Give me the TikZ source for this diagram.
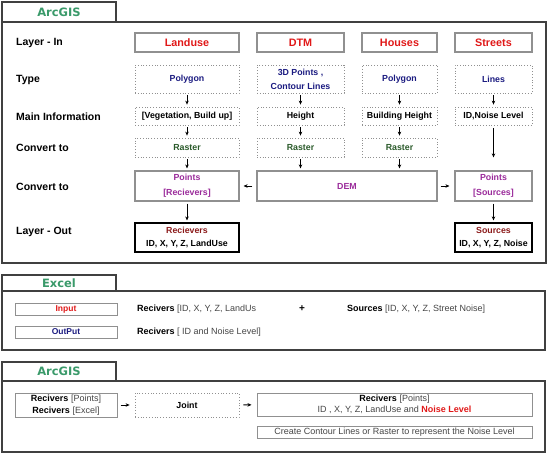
\documentclass[tikz,border=0pt]{standalone}
\usepackage{fontspec}
\setmainfont{Liberation Sans}
\newfontfamily\tabfont{DejaVu Sans}
\usetikzlibrary{arrows.meta}
\definecolor{tabgreen}{HTML}{3A9A6A}
\definecolor{hdred}{HTML}{E01818}
\definecolor{navy}{HTML}{1A1A80}
\definecolor{dkgreen}{HTML}{2A5A2A}
\definecolor{purp}{HTML}{9A2A9A}
\definecolor{dkred}{HTML}{8B1A1A}
\definecolor{frame}{HTML}{404040}
\definecolor{boxgray}{HTML}{909090}
\definecolor{txtgray}{HTML}{454545}
\tikzset{
  frm/.style={draw=frame, line width=1.3pt},
  tabbox/.style={draw=frame, line width=1.3pt, fill=white, inner sep=0pt, minimum width=114pt, font=\tabfont\bfseries\fontsize{11.5}{13}\selectfont, text=tabgreen},
  rowlab/.style={anchor=west, inner sep=0pt, font=\bfseries\fontsize{10.5}{12}\selectfont},
  hdbox/.style={draw=boxgray, line width=1.4pt, inner sep=0pt, minimum height=19pt, font=\bfseries\fontsize{10.8}{12}\selectfont, text=hdred},
  dotbox/.style={draw=boxgray, dotted, line width=0.8pt, inner sep=0pt, align=center, font=\bfseries\fontsize{8.8}{14}\selectfont},
  gbox/.style={draw=boxgray, line width=1.2pt, inner sep=0pt, align=center, font=\bfseries\fontsize{8.8}{15}\selectfont},
  obox/.style={draw=black, line width=1.2pt, inner sep=0pt, align=center, font=\bfseries\fontsize{8.8}{13}\selectfont},
  arr/.style={-{Stealth[length=4pt,width=3.5pt]}, line width=0.8pt},
  plain/.style={anchor=west, inner sep=0pt, font=\fontsize{9}{10}\selectfont, text=txtgray},
  pbox/.style={draw=boxgray, line width=1pt, inner sep=0pt, align=center, font=\fontsize{9}{11.5}\selectfont, text=txtgray},
}
\newcommand{\bk}[1]{\textcolor{black}{\bfseries #1}}
\begin{document}
\begin{tikzpicture}[x=1pt,y=-1pt]
\useasboundingbox (0,0) rectangle (550,455);
% ---------- Section 1 ----------
\draw[frm] (2,22) rectangle (546,263);
\node[tabbox, minimum height=20pt] (tab1) at (59,12) {ArcGIS};

\node[rowlab] (l1) at (16,42.5) {Layer - In};
\node[rowlab] (l2) at (16,80) {Type};
\node[rowlab] (l3) at (16,117) {Main Information};
\node[rowlab] (l4) at (16,148) {Convert to};
\node[rowlab] (l5) at (16,187) {Convert to};
\node[rowlab] (l6) at (16,232) {Layer - Out};

% headers
\node[hdbox, minimum width=104pt] (h1) at (187,42.5) {Landuse};
\node[hdbox, minimum width=87pt] (h2) at (300.5,42.5) {DTM};
\node[hdbox, minimum width=75pt] (h3) at (399.5,42.5) {Houses};
\node[hdbox, minimum width=77pt] (h4) at (493.5,42.5) {Streets};

% type
\node[dotbox, minimum width=104pt, minimum height=28pt, text=navy] (t1) at (187,79) {Polygon};
\node[dotbox, minimum width=87pt, minimum height=28pt, text=navy] (t2) at (300.5,79) {3D Points ,\\Contour Lines};
\node[dotbox, minimum width=75pt, minimum height=28pt, text=navy] (t3) at (399.5,79) {Polygon};
\node[dotbox, minimum width=77pt, minimum height=28pt, text=navy] (t4) at (493.5,79) {Lines};

% main info
\node[dotbox, minimum width=104pt, minimum height=18pt] (m1) at (187,116) {[Vegetation, Build up]};
\node[dotbox, minimum width=87pt, minimum height=18pt] (m2) at (300.5,116) {Height};
\node[dotbox, minimum width=75pt, minimum height=18pt] (m3) at (399.5,116) {Building Height};
\node[dotbox, minimum width=77pt, minimum height=18pt] (m4) at (493.5,116) {ID,Noise Level};

% raster
\node[dotbox, minimum width=104pt, minimum height=19pt, text=dkgreen] (r1) at (187,147.5) {Raster};
\node[dotbox, minimum width=87pt, minimum height=19pt, text=dkgreen] (r2) at (300.5,147.5) {Raster};
\node[dotbox, minimum width=75pt, minimum height=19pt, text=dkgreen] (r3) at (399.5,147.5) {Raster};

% points / DEM
\node[gbox, minimum width=104pt, minimum height=30pt, text=purp] (p1) at (187,186) {Points\\{}[Recievers]};
\node[gbox, minimum width=180pt, minimum height=30pt, text=purp] (dem) at (347,186) {DEM};
\node[gbox, minimum width=77pt, minimum height=30pt, text=purp] (p4) at (493.5,186) {Points\\{}[Sources]};

% outputs
\node[obox, minimum width=104pt, minimum height=29pt] (o1) at (187,237.5) {\textcolor{dkred}{Recievers}\\ID, X, Y, Z, LandUse};
\node[obox, minimum width=77pt, minimum height=29pt] (o4) at (493.5,237.5) {\textcolor{dkred}{Sources}\\ID, X, Y, Z, Noise};

% arrows section 1
\foreach \a/\b in {t1/m1,t2/m2,t3/m3,t4/m4,m1/r1,m2/r2,m3/r3,r1/p1,p1/o1,p4/o4}
  \draw[arr, shorten <=2pt, shorten >=2pt] (\a) -- (\b);
\draw[arr, shorten <=2pt, shorten >=2pt] (r2.south) -- (r2.south |- dem.north);
\draw[arr, shorten <=2pt, shorten >=2pt] (r3.south) -- (r3.south |- dem.north);
\draw[arr, shorten <=3pt, shorten >=13pt] (m4) -- (p4);
\draw[arr, shorten <=4pt, shorten >=4pt] (dem) -- (p1);
\draw[arr, shorten <=3pt, shorten >=5pt] (dem) -- (p4);

% ---------- Section 2 ----------
\draw[frm] (2,291) rectangle (545,350);
\node[tabbox, minimum height=16pt] (tab2) at (59,283) {Excel};
\node[pbox, minimum width=102pt, minimum height=12pt, text height=6.3pt, text depth=1.7pt, text=hdred, font=\bfseries\fontsize{8.5}{11}\selectfont] (in) at (66,309) {Input};
\node[pbox, minimum width=102pt, minimum height=12pt, text height=6.3pt, text depth=1.7pt, text=navy, font=\bfseries\fontsize{8.5}{11}\selectfont] (out) at (66,332) {OutPut};
\node[plain] (ex1) at (137,309) {\bk{Recivers} [ID, X, Y, Z, LandUs};
\node[plain, text=black, font=\bfseries\fontsize{10}{10}\selectfont] (plus) at (299,309) {+};
\node[plain] (ex2) at (347,309) {\bk{Sources} [ID, X, Y, Z, Street Noise]};
\node[plain] (ex3) at (137,332) {\bk{Recivers} [ ID and Noise Level]};

% ---------- Section 3 ----------
\draw[frm] (2,381) rectangle (545,452);
\node[tabbox, minimum height=19pt] (tab3) at (59,371.5) {ArcGIS};
\node[pbox, minimum width=102pt, minimum height=24pt] (rc) at (66,405) {\bk{Recivers} [Points]\\\bk{Recivers} [Excel]};
\node[dotbox, minimum width=104pt, minimum height=24pt] (jt) at (187,405) {Joint};
\node[pbox, minimum width=275pt, minimum height=23pt] (res) at (394.5,404.5) {\bk{Recivers} [Points]\\ID , X, Y, Z, LandUse and \textcolor{hdred}{\bfseries Noise Level}};
\node[pbox, minimum width=275pt, minimum height=12pt, text height=6.5pt, text depth=2pt] (cr) at (394.5,432.5) {Create Contour Lines or Raster to represent the Noise Level};
\draw[arr, shorten <=3pt, shorten >=5pt] (rc) -- (jt);
\draw[arr, shorten <=4pt, shorten >=5pt] (jt) -- (res);
\end{tikzpicture}
\end{document}
